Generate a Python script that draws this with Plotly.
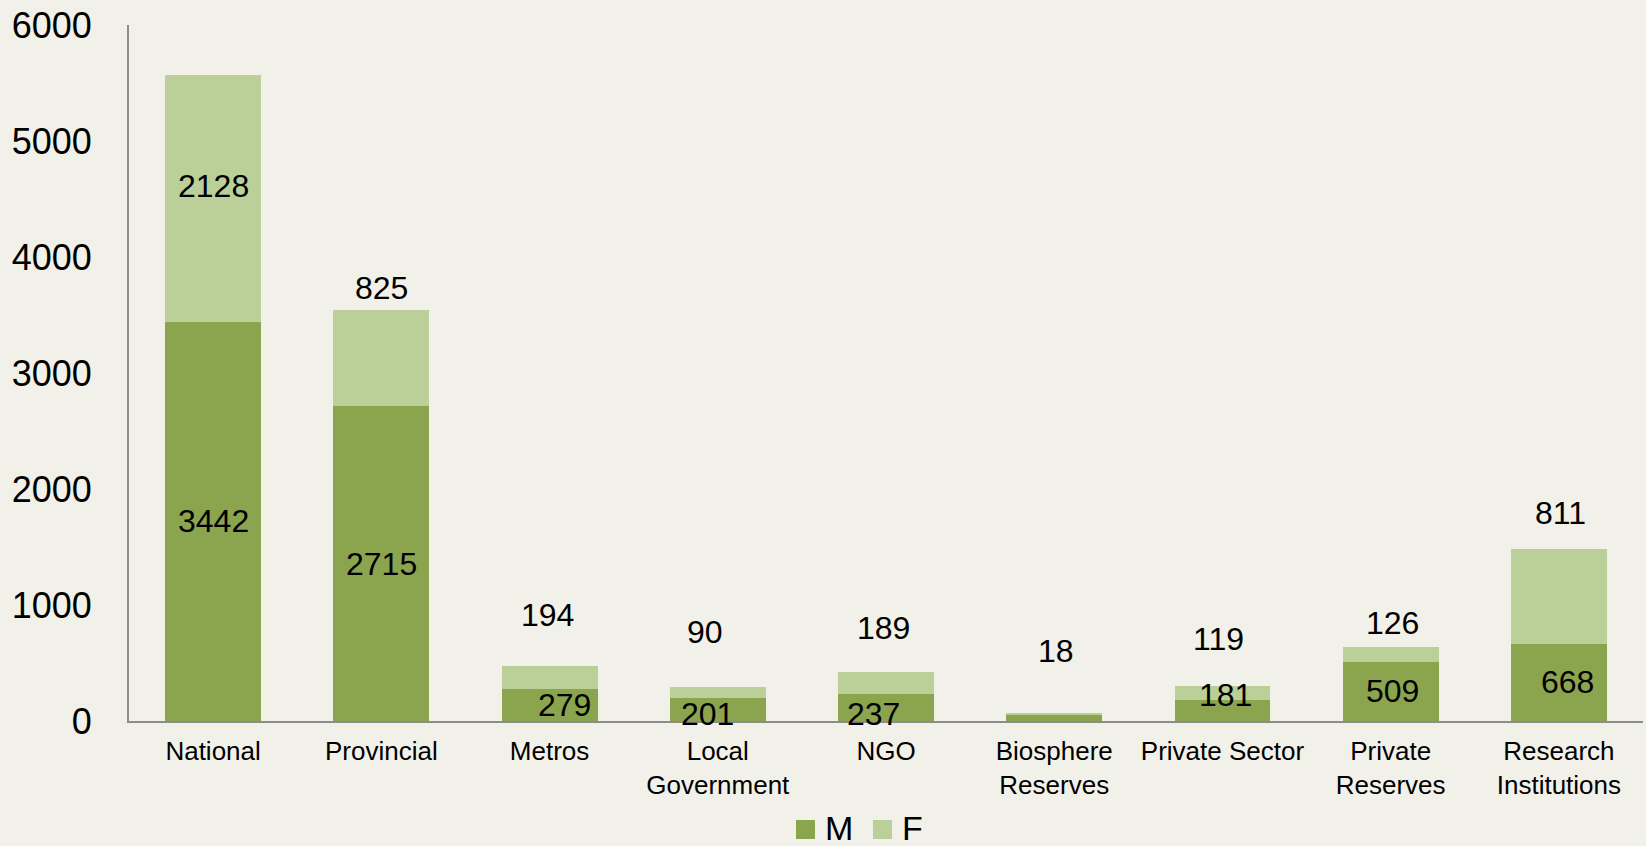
import plotly.graph_objects as go

categories = ["National", "Provincial", "Metros", "Local<br>Government", "NGO",
              "Biosphere<br>Reserves", "Private Sector", "Private<br>Reserves",
              "Research<br>Institutions"]
m_values = [3442, 2715, 279, 201, 237, 50, 181, 509, 668]
f_values = [2128, 825, 194, 90, 189, 18, 119, 126, 811]
m_label_hidden = ["Biosphere<br>Reserves"]
y_ticks = [0, 1000, 2000, 3000, 4000, 5000, 6000]

# label style offsets (pixels), mimicking manually placed labels
m_xshift = [0, 0, 15, -10, -13, 0, 3, 2, 9]
m_yshift = [0, 0, 0, -5, -7, 0, 16, 0, 0]
f_xshift = [0, 0, -2, -13, -3, 2, -4, 2, 2]
f_yshift = [12, 70, 62, 60, 55, 63, 54, 32, 83]

W, H = 1646, 846
ML, MR, MT, MB = 129, 3, 25, 125
BG = "#F2F1E9"
DARK = "#8BA54E"
LIGHT = "#BBCF98"
FONT = "Liberation Sans, Arial, sans-serif"

fig = go.Figure()
fig.add_trace(go.Bar(x=categories, y=m_values, name="M", marker_color=DARK,
                     marker_line_width=0, showlegend=False))
fig.add_trace(go.Bar(x=categories, y=f_values, name="F", marker_color=LIGHT,
                     marker_line_width=0, showlegend=False))

annotations = []
for i, c in enumerate(categories):
    if c not in m_label_hidden:
        annotations.append(dict(x=c, y=m_values[i] / 2, xref="x", yref="y",
                                text=str(m_values[i]), showarrow=False,
                                xshift=m_xshift[i], yshift=m_yshift[i],
                                font=dict(size=32, color="#000000", family=FONT)))
    annotations.append(dict(x=c, y=m_values[i] + f_values[i] / 2, xref="x", yref="y",
                            text=str(f_values[i]), showarrow=False,
                            xshift=f_xshift[i], yshift=f_yshift[i],
                            font=dict(size=32, color="#000000", family=FONT)))

# manual legend
plot_w = W - ML - MR
plot_h = H - MT - MB
def px_to_paper_x(px):
    return (px - ML) / plot_w
def px_to_paper_y(py):
    return (H - MB - py) / plot_h

legend_items = [("M", DARK, 796), ("F", LIGHT, 873)]
shapes = []
for name, col, x0 in legend_items:
    shapes.append(dict(type="rect", xref="paper", yref="paper",
                       x0=px_to_paper_x(x0), x1=px_to_paper_x(x0 + 19),
                       y0=px_to_paper_y(839), y1=px_to_paper_y(820),
                       fillcolor=col, line_width=0))
    annotations.append(dict(x=px_to_paper_x(x0 + 27), y=px_to_paper_y(828),
                            xref="paper", yref="paper", text=name, showarrow=False,
                            xanchor="left", yanchor="middle",
                            font=dict(size=34, color="#000000", family=FONT)))

fig.update_layout(
    barmode="stack",
    bargap=0.43,
    width=W, height=H,
    margin=dict(l=ML, r=MR, t=MT, b=MB, autoexpand=False),
    paper_bgcolor=BG, plot_bgcolor=BG,
    font=dict(family=FONT, color="#000000"),
    annotations=annotations,
    shapes=shapes,
    showlegend=False,
)
fig.update_xaxes(showline=True, linecolor="#8C8C8C", linewidth=2, ticks="",
                 tickfont=dict(size=26, family=FONT), ticklabelstandoff=6,
                 showgrid=False, zeroline=False)
fig.update_yaxes(range=[0, 6000], tickvals=y_ticks, showline=True,
                 linecolor="#8C8C8C", linewidth=2, ticks="",
                 tickfont=dict(size=36, family=FONT), ticklabelstandoff=28,
                 showgrid=False, zeroline=False)

fig.write_html("out.html",
               config={"displayModeBar": False},
               post_script="document.body.style.margin='0';"
                           "document.body.style.background='" + BG + "';")
